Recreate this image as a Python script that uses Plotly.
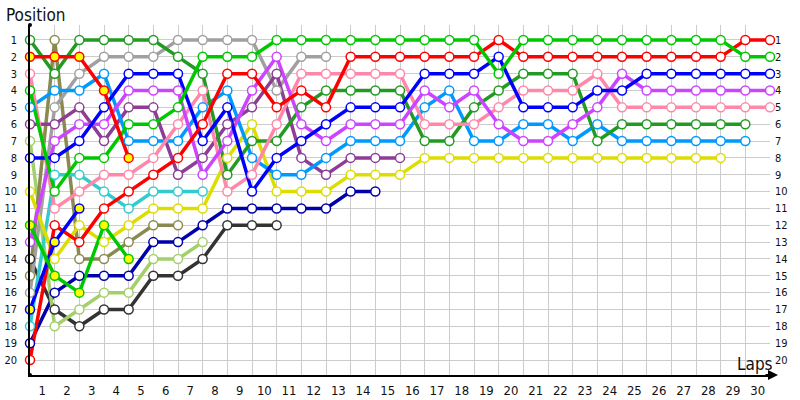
import plotly.graph_objects as go

laps = list(range(0, 31))
lap_labels = [str(i) for i in range(1, 31)]
positions = list(range(1, 21))

# Position per lap (lap 0 = grid)
pos_lime = [4, 10, 8, 8, 6, 6, 5, 2, 2, 2, 1, 1, 1, 1, 1, 1, 1, 1, 1, 3, 1, 1, 1, 1, 1, 1, 1, 1, 1, 2, 2]
pos_red = [20, 12, 13, 11, 10, 9, 8, 6, 3, 3, 5, 4, 5, 2, 2, 2, 2, 2, 2, 1, 2, 2, 2, 2, 2, 2, 2, 2, 2, 1, 1]
pos_blue = [8, 8, 7, 5, 3, 3, 3, 7, 5, 10, 8, 7, 6, 5, 5, 5, 3, 3, 3, 2, 5, 5, 5, 4, 4, 3, 3, 3, 3, 3, 3]
pos_violet = [13, 7, 6, 6, 4, 4, 4, 9, 7, 4, 2, 6, 7, 6, 6, 6, 4, 5, 4, 6, 7, 7, 6, 5, 3, 4, 4, 4, 4, 4, 4]
pos_pink = [3, 11, 10, 9, 9, 8, 6, 4, 10, 9, 6, 3, 3, 3, 3, 3, 6, 6, 6, 5, 4, 4, 4, 3, 5, 5, 5, 5, 5, 5, 5]
pos_forest = [1, 3, 1, 1, 1, 1, 2, 3, 9, 7, 7, 5, 4, 4, 4, 4, 7, 7, 5, 4, 3, 3, 3, 7, 6, 6, 6, 6, 6, 6]
pos_skyblue = [5, 4, 4, 3, 7, 7, 7, 5, 4, 8, 9, 9, 8, 7, 7, 7, 5, 4, 7, 7, 6, 6, 7, 6, 7, 7, 7, 7, 7, 7]
pos_yellow = [10, 14, 12, 13, 12, 11, 11, 11, 8, 6, 10, 10, 10, 9, 9, 9, 8, 8, 8, 8, 8, 8, 8, 8, 8, 8, 8, 8, 8]
pos_plum = [6, 6, 5, 7, 5, 5, 9, 8, 6, 5, 3, 8, 9, 8, 8, 8]
pos_gray = [16, 5, 3, 2, 2, 2, 1, 1, 1, 1, 4, 2, 2]
pos_teal = [18, 9, 9, 10, 11, 10, 10, 10]
pos_olive = [15, 1, 14, 14, 13, 12, 12]
pos_lightgreen = [7, 18, 17, 16, 16, 14, 14, 13]
pos_black = [14, 17, 18, 17, 17, 15, 15, 14, 12, 12, 12]
pos_navy = [19, 16, 15, 15, 15, 13, 13, 12, 11, 11, 11, 11, 11, 10, 10]
pos_red_out = [2, 2, 2, 4, 8]
pos_green_out = [12, 15, 16, 12, 14]
pos_blue_out = [17, 13, 11]

series = [
    (pos_navy, "#0000aa", False),
    (pos_black, "#333333", False),
    (pos_lightgreen, "#a3d06a", False),
    (pos_olive, "#8a8a50", False),
    (pos_teal, "#33cccc", False),
    (pos_gray, "#a0a0a0", False),
    (pos_plum, "#8e3d96", False),
    (pos_yellow, "#dddd00", False),
    (pos_skyblue, "#0099ff", False),
    (pos_forest, "#239b23", False),
    (pos_pink, "#ff88aa", False),
    (pos_violet, "#cc44ff", False),
    (pos_blue, "#0000ff", False),
    (pos_red, "#ff0000", False),
    (pos_lime, "#00c800", False),
    (pos_blue_out, "#0000ff", True),
    (pos_green_out, "#00c800", True),
    (pos_red_out, "#ff0000", True),
]

fig = go.Figure()

for vals, col, out in series:
    fig.add_trace(go.Scatter(
        x=laps[:len(vals)], y=vals, mode="lines",
        line=dict(color=col, width=3.5),
        hoverinfo="skip", showlegend=False,
    ))
for vals, col, out in series:
    fig.add_trace(go.Scatter(
        x=laps[:len(vals)], y=vals, mode="markers",
        marker=dict(size=9, color="#ffff00" if out else "#ffffff",
                    line=dict(color=col, width=1.5)),
        cliponaxis=False, showlegend=False,
    ))

# dummy trace to activate right axis
fig.add_trace(go.Scatter(x=[0], y=[1], yaxis="y2", mode="markers",
                         marker=dict(opacity=0), hoverinfo="skip", showlegend=False))

font_fam = "DejaVu Sans Condensed, DejaVu Sans, sans-serif"

fig.update_layout(
    width=800, height=400,
    margin=dict(l=30, r=30, t=25, b=25, autoexpand=False),
    paper_bgcolor="white", plot_bgcolor="white",
    font=dict(family=font_fam, color="#111111"),
    xaxis=dict(
        range=[0, 30], automargin=False,
        tickmode="array",
        tickvals=[i - 0.5 for i in range(1, 31)],
        ticktext=lap_labels,
        showgrid=False, zeroline=False,
        showline=True, linecolor="black", linewidth=2,
        ticks="", tickfont=dict(size=13, family=font_fam),
        ticklabelstandoff=2,
        minor=dict(tickmode="array", tickvals=list(range(1, 31)),
                   showgrid=True, gridcolor="#cccccc", gridwidth=1, ticks=""),
    ),
    yaxis=dict(
        range=[20.89, 0.11], automargin=False,
        tickmode="array", tickvals=positions,
        ticktext=[str(p) for p in positions],
        showgrid=True, gridcolor="#cccccc", gridwidth=1,
        zeroline=False, showline=True, linecolor="black", linewidth=1.5,
        ticks="", tickfont=dict(size=11, family=font_fam),
        ticklabelstandoff=9,
    ),
    yaxis2=dict(
        range=[20.89, 0.11], overlaying="y", side="right", automargin=False,
        tickmode="array", tickvals=positions,
        ticktext=[str(p) for p in positions],
        showgrid=False, zeroline=False, showline=False,
        ticks="", tickfont=dict(size=11, family=font_fam),
        ticklabelstandoff=4,
    ),
    annotations=[
        dict(text="Position", xref="paper", yref="paper",
             x=-26 / 740, y=(375 - 15) / 350, xanchor="left", yanchor="middle",
             showarrow=False, font=dict(size=17, family=font_fam, color="#111111")),
        dict(text="Laps", xref="paper", yref="paper",
             x=(775 - 30) / 740, y=(375 - 364) / 350, xanchor="right", yanchor="middle",
             showarrow=False, font=dict(size=17, family=font_fam, color="#111111")),
        dict(text="", xref="paper", yref="paper", x=(778 - 30) / 740, y=0,
             ax=-14, ay=0, showarrow=True, arrowhead=2, arrowsize=1,
             arrowwidth=2, arrowcolor="black"),
    ],
    shapes=[
        dict(type="circle", xref="paper", yref="paper",
             xsizemode="pixel", ysizemode="pixel", xanchor=0, yanchor=1,
             x0=-2, x1=2, y0=-2, y1=2, fillcolor="black", line=dict(width=0)),
        dict(type="circle", xref="paper", yref="paper",
             xsizemode="pixel", ysizemode="pixel", xanchor=0, yanchor=0,
             x0=-2, x1=2, y0=-2, y1=2, fillcolor="black", line=dict(width=0)),
    ],
)

fig.write_html("out.html",
               config={"displayModeBar": False},
               post_script="document.body.style.margin='0px';document.body.style.overflow='hidden';")
